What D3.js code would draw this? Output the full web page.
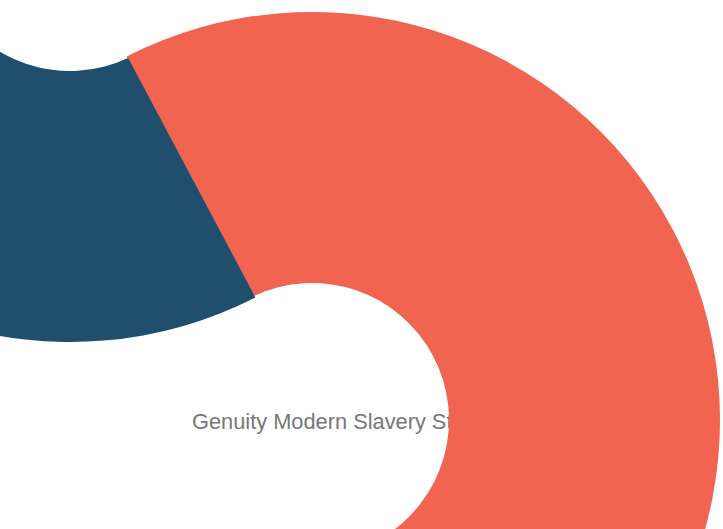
<!DOCTYPE html>
<html>
<head>
<meta charset="utf-8">
<script src="https://cdn.jsdelivr.net/npm/d3@7"></script>
<style>
  body { margin: 0; background: #fff; }
  svg { display: block; }
</style>
</head>
<body>
<div id="chart"></div>
<script>
// data
const categories = ['Segment A', 'Segment B'];
const values = [50, 50];
const colors = ['#F16450', '#1F4F6D'];
const title = 'Genuity Modern Slavery Statement';

// layout
const width = 723;
const height = 529;
const innerRadius = 137;
const outerRadius = 408;
// each slice sits on its own centre
const sliceCenters = [[312, 420], [70, -66]];
const startDeg = -28;

const svg = d3.select('#chart')
  .append('svg')
  .attr('width', width)
  .attr('height', height);

svg.append('text')
  .attr('x', 192)
  .attr('y', 429)
  .attr('fill', '#777')
  .style('font-family', '"Liberation Sans", Arial, Helvetica, sans-serif')
  .style('font-size', '21.8px')
  .text(title);

const pie = d3.pie()
  .sort(null)
  .startAngle(startDeg * Math.PI / 180)
  .endAngle(startDeg * Math.PI / 180 + 2 * Math.PI)
  .padAngle(0.032)
  .value(d => d.value);

const arc = d3.arc()
  .innerRadius(innerRadius)
  .outerRadius(outerRadius);

const data_ready = pie(categories.map((c, i) => ({ name: c, value: values[i] })));

svg.selectAll('path.slice')
  .data(data_ready)
  .enter()
  .append('path')
  .attr('class', 'slice')
  .attr('transform', (d, i) => `translate(${sliceCenters[i][0]}, ${sliceCenters[i][1]})`)
  .attr('fill', (d, i) => colors[i])
  .attr('d', arc);
</script>
</body>
</html>
